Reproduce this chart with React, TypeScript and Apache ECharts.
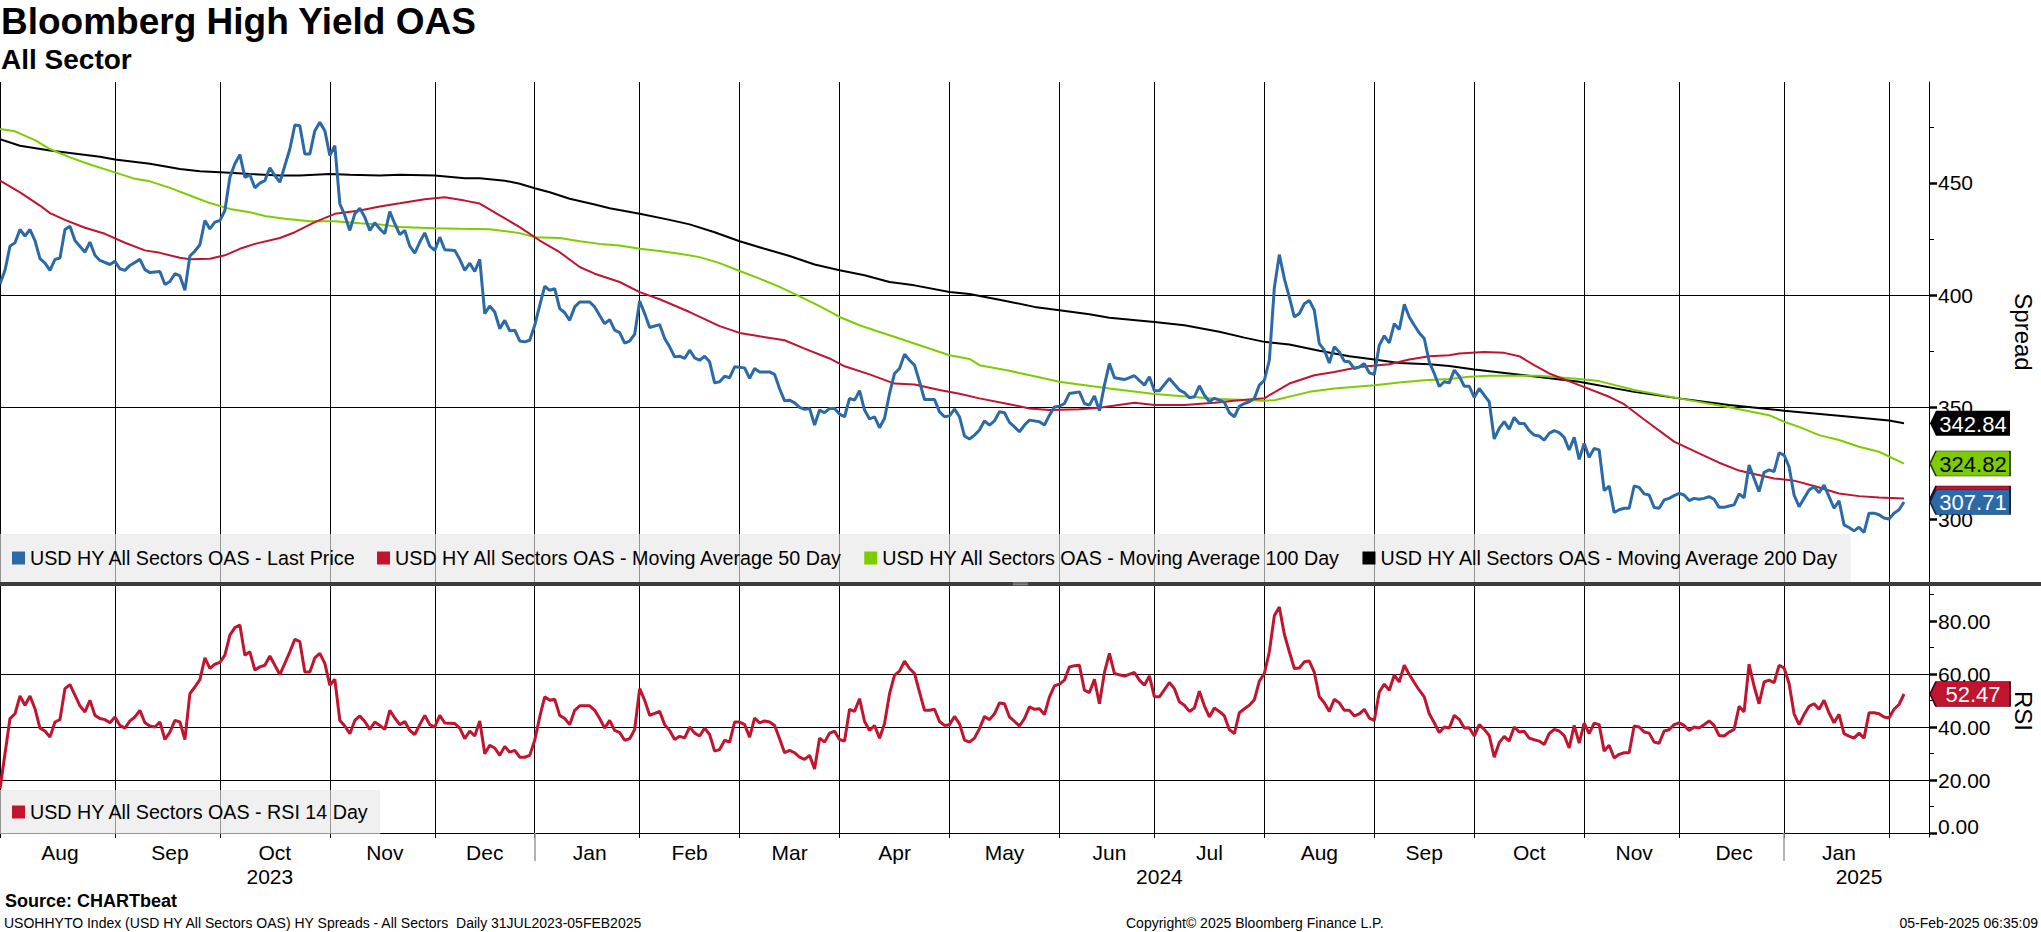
import React, { useEffect, useRef } from 'react';
import * as echarts from 'echarts';

const FONT = 'Liberation Sans, Arial, sans-serif';
const START = '2023-07-31';
const END = '2025-02-12';
const HOLIDAYS = [
  '2023-11-23', '2023-12-25', '2024-01-01', '2024-01-15', '2024-02-19', '2024-03-29',
  '2024-05-27', '2024-06-19', '2024-07-04', '2024-09-02', '2024-10-14', '2024-11-11',
  '2024-11-28', '2024-12-25', '2025-01-01', '2025-01-20',
];
const MONTHS = ['Jan', 'Feb', 'Mar', 'Apr', 'May', 'Jun', 'Jul', 'Aug', 'Sep', 'Oct', 'Nov', 'Dec'];

const NAME_PRICE = 'USD HY All Sectors OAS - Last Price';
const NAME_MA50 = 'USD HY All Sectors OAS - Moving Average 50 Day';
const NAME_MA100 = 'USD HY All Sectors OAS - Moving Average 100 Day';
const NAME_MA200 = 'USD HY All Sectors OAS - Moving Average 200 Day';
const NAME_RSI = 'USD HY All Sectors OAS - RSI 14 Day';

const SPREAD_TICKS = [300, 350, 400, 450];
const SPREAD_MINOR = [325, 375, 425, 475];
const RSI_TICKS = [0, 20, 40, 60, 80];
const RSI_MINOR = [10, 30, 50, 70, 90];

// [trading-day index from 31 Jul 2023, value]
const PRICE: [number, number][] = [
  [0,405],[1,411],[2,421.8],[3,423.3],[4,429.2],[5,426.3],[6,429.2],[7,424.3],[8,416.2],[9,414.2],[10,411],[11,415.9],[12,416.5],[13,429.2],[14,430.7],[15,424.3],[17,419.1],[18,423.6],[19,417.7],[20,415.4],[22,413.6],[23,415],[24,411.7],[25,411],[26,413.2],[28,415.9],[29,411.3],[30,410],[32,410.5],[33,404.7],[34,406],[35,409.5],[36,408.5],[37,402.1],[38,417.4],[39,419.6],[40,422.4],[41,433.2],[42,429.5],[43,432.5],[44,433.2],[45,437.7],[46,452.5],[47,458.5],[48,462.6],[49,452.5],[50,453.6],[51,447.8],[52,449.9],[53,451],[54,456.7],[55,453.3],[56,450.3],[58,465.1],[59,475.8],[60,475.5],[61,462.9],[62,462.9],[63,473.3],[64,477],[65,473.3],[66,462.2],[67,466.6],[68,440.7],[69,435.5],[70,428.8],[71,436.2],[72,438.7],[73,434.7],[74,428.8],[75,432.2],[76,429.5],[77,427.3],[78,437.2],[79,431.8],[80,426.9],[81,428.8],[82,421.8],[83,418.7],[84,423.6],[85,427.7],[86,421.8],[87,419.9],[88,425.8],[89,420.2],[91,419.9],[92,415.9],[93,411],[94,414.2],[95,410.5],[96,415.9],
  [97,391.7],[98,395.1],[99,392.4],[100,385],[101,388.7],[102,384],[103,384.3],[104,379.5],[105,379.1],[106,379.8],[107,386.5],[108,395.4],[109,403.9],[110,402.1],[111,402.8],[112,393.9],[113,392.1],[114,388.7],[115,394.7],[116,396.9],[118,396.9],[119,394.7],[120,390.9],[121,387.2],[122,389],[123,384.3],[124,383.2],[125,378.6],[126,379.4],[127,382.5],[128,397.3],[129,391.7],[130,385.5],[132,386.8],[133,380.6],[134,376.9],[135,372.4],[136,372.7],[137,371.7],[138,375.4],[139,372],[140,370.9],[141,372.7],[142,370.2],[143,360.8],[144,361.3],[145,363.8],[146,363.1],[147,368],[149,367.5],[150,362.8],[151,367.2],[152,365.7],[154,365.7],[155,364.6],[156,358.2],[157,352.8],[158,353.1],[159,351.9],[160,349.9],[161,349],[162,349.4],[163,342],[164,348.7],[165,347.5],[166,349.4],[167,349.4],[168,346.9],[169,345.7],[170,353.9],[171,353.1],[172,357.3],[173,348.7],[174,344.7],[175,345.7],[176,340.8],[177,345],[178,356.1],[179,365],[180,367.2],[181,373.6],[182,370.9],[183,368.7],[184,361.3],[185,353.4],[186,353.4],[187,353.4],[188,347.9],[189,345.7],[190,346.1],[191,349.1],[192,345.7],[193,337.1],
  [194,335.8],[195,337.5],[196,339.8],[197,343.9],[198,342],[199,343.9],[200,347.9],[201,347.5],[202,343.2],[203,341.2],[204,339],[205,342],[206,344.2],[208,343.5],[209,342],[210,346.4],[211,350.1],[212,350.4],[213,351.6],[214,356.1],[216,356.8],[217,351.6],[218,350.9],[219,355],[220,348.4],[221,359.8],[222,369.4],[223,363.1],[225,362.3],[227,364],[229,359.8],[230,363.5],[231,357.3],[232,357.3],[234,362.8],[236,357.6],[237,356.5],[238,354.2],[239,354.6],[240,359.5],[241,355.3],[242,352.4],[243,353.9],[244,353.1],[245,352.1],[246,347.5],[247,345.7],[248,350.4],[249,351.6],[250,352.4],[251,353.9],[252,359.8],[253,362],[254,370.9],[255,403.3],[256,418],[257,407.3],[258,399.1],[259,390.2],[260,391.7],[261,396.1],[262,397.6],[263,393.2],[264,378.3],[265,375.4],[266,369.7],[267,376.9],[268,374.6],[269,370.5],[270,370.2],[271,367.2],[272,367.9],[273,369.4],[274,365.3],[275,364.6],[276,377.6],[277,381.8],[278,378.6],[279,387.2],[280,384.6],[281,395.8],[282,390.2],[283,386.5],[284,383.1],[285,380.6],[286,370.2],[287,365],[288,359.2],
  [289,361.3],[290,360.8],[291,366.5],[292,363.8],[293,359.3],[294,359.3],[295,354.3],[296,358.3],[297,355.3],[298,352.4],[299,335.8],[300,340.5],[301,343.5],[302,340.2],[303,345.4],[304,342.7],[305,342.7],[306,339.5],[307,337.5],[308,337.1],[309,335.3],[310,338.3],[311,339.5],[312,338.6],[313,336.5],[314,330.9],[315,336.5],[316,326.7],[317,333.8],[318,327.6],[319,331.6],[320,330.9],[321,312.8],[322,314.8],[323,303],[324,304.2],[325,304.9],[326,304.9],[327,314.8],[328,314.2],[329,311.3],[330,310.8],[331,305.2],[332,304.9],[333,308.6],[334,309.3],[335,310.5],[336,311.5],[337,310.8],[338,308.3],[339,309.3],[340,308.9],[341,309.3],[342,310.1],[343,308.9],[344,305.3],[345,305.3],[346,305.9],[347,306.4],[348,311.3],[349,309.6],[350,324.2],[351,318.2],[352,312.3],[353,320.9],[354,322],[355,321.2],[356,329.6],[357,328.6],[358,323.4],[359,310.8],[360,305.6],[361,309.3],[362,313],[363,314.5],[364,311.8],[365,315.2],[366,310.1],[367,304.9],[368,308.2],[369,297.5],[370,296.3],[371,294.8],[372,296.4],[373,294.1],[374,302.7],[375,302.7],[376,302],[377,300.5],[378,300.1],[379,302.7],[380,304.2],[381,307.71],
];

const MA50: [number, number][] = [
  [0,451],[4,445.8],[8,439.9],[10,436.5],[13,433.5],[17,430],[21,427.3],[25,423.3],[29,419.9],[32,418.8],[36,416.6],[38,415.9],[42,416.2],[45,417.7],[48,420.6],[51,422.8],[56,425.4],[59,428],[63,432.5],[67,436.2],[72,437.7],[76,439.5],[80,440.9],[85,442.7],[89,443.6],[93,442.1],[96,440.8],[100,435.5],[104,430.3],[108,424.3],[112,419.1],[116,412.5],[119,409.5],[124,405.8],[128,401.3],[132,398.1],[138,392.4],[144,386.1],[148,383.1],[152,381.6],[157,379.8],[161,376.1],[166,371.7],[169,368.2],[174,364.6],[179,360.5],[183,360.1],[188,357.6],[192,356],[196,353.9],[202,351.3],[206,349.4],[210,348.7],[216,349.1],[220,349.7],[227,351.9],[231,350.9],[237,350.9],[243,351.9],[248,353.1],[253,353.9],[254,355.3],[258,360.5],[263,364.2],[267,365.7],[272,367.9],[278,369.1],[282,371.2],[286,372.7],[290,373.1],[292,373.9],[297,374.6],[301,374.2],[304,372.7],[307,368.7],[310,365],[316,359.8],[322,354.6],[325,351.3],[329,344.5],[335,334.6],[340,329.4],[344,325.2],[348,321.7],[351,320.2],[355,318.2],[359,317.2],[363,314.8],[368,311.5],[372,310.3],[376,309.7],[381,309.2],
];

const MA100: [number, number][] = [
  [0,474],[3,473],[7,469.1],[10,465.1],[14,461.4],[18,458.2],[23,454.7],[27,451.8],[30,450.7],[34,447.8],[38,444.4],[42,441],[46,438.4],[50,436.9],[53,435.2],[57,434],[62,432.9],[67,432.9],[72,432],[76,431.5],[80,430.3],[87,429.8],[92,429.5],[98,429.3],[100,428.8],[104,427.6],[107,425.8],[112,425.4],[116,424],[120,422.8],[124,422.1],[128,420.6],[132,419.6],[136,418.4],[140,416.9],[144,414.2],[148,410.7],[152,407.3],[156,403.6],[160,399.4],[164,395],[168,390.2],[172,386.5],[176,383.5],[180,380.6],[184,377.6],[190,373.1],[194,371.5],[196,368.7],[202,366.2],[207,363.8],[212,361.3],[216,360.1],[222,358.3],[231,355.8],[238,354.6],[244,353.6],[253,352.8],[255,353.1],[262,356.8],[267,358.3],[275,359.8],[280,361],[285,362],[290,362.5],[294,363.5],[298,364],[308,364],[316,362.5],[320,361.6],[327,357.6],[336,353.9],[346,349.9],[354,346.4],[357,343.5],[360,341.2],[364,337.5],[368,335.3],[372,332.3],[376,330.1],[381,324.82],
];

const MA200: [number, number][] = [
  [0,469.5],[4,466.6],[10,464.4],[20,461.7],[23,460.4],[30,458.5],[36,456.2],[40,455.2],[46,454.5],[50,454],[56,453.3],[60,453.3],[66,454],[70,453.6],[76,453.3],[80,453.6],[87,453.3],[93,452.1],[96,452.1],[101,451],[104,449.6],[107,447.6],[110,445.8],[114,442.9],[119,440.4],[122,438.7],[128,436.2],[134,433.5],[138,431.5],[143,428],[148,424],[153,420.6],[158,417.4],[163,413.6],[168,411],[173,408.8],[178,405.8],[183,404.3],[190,401.3],[194,400.4],[200,397.9],[207,394.7],[212,393.2],[218,391.4],[222,389.9],[231,388],[237,386.5],[244,383.6],[249,381],[253,379.1],[258,377.9],[264,375.1],[270,372.7],[275,371.2],[280,369.7],[286,369.1],[290,368.3],[295,366.8],[305,364.2],[316,361.3],[327,356.8],[336,353.9],[346,350.9],[357,348.4],[368,346.1],[378,344],[381,342.84],
];

const RSI: [number, number][] = [
  [0,16.7],[2,43.2],[3,45],[4,51.7],[5,48.2],[6,51.7],[7,46.9],[8,39.6],[9,38.5],[10,36.2],[11,41.9],[12,42.8],[13,54.5],[14,56],[15,52],[16,48],[17,45.7],[18,50.1],[19,44.4],[20,43.2],[21,42.8],[22,41.6],[23,43.8],[24,40.6],[25,39.6],[26,42.3],[27,43.8],[28,46.3],[29,41.6],[30,40.4],[31,40],[32,41.9],[33,35.3],[34,38.1],[35,42.5],[36,41.9],[37,35.3],[38,52.6],[39,55.1],[40,57.9],[41,66.1],[42,62.1],[43,63.7],[44,64.4],[45,67.1],[46,74.7],[47,77.5],[48,78.5],[49,67.1],[50,68.4],[51,61.5],[52,62.7],[53,63.3],[54,66.8],[55,63.3],[56,59.8],[57,64],[58,68.4],[59,73.1],[60,72.2],[61,60.8],[62,60.8],[63,66.1],[64,67.8],[65,64],[66,55.8],[67,58],[68,42.5],[69,40.4],[70,37.5],[71,42.5],[72,44.2],[73,42.1],[74,39.1],[75,41.9],[76,40.6],[77,39.1],[78,46.3],[79,43.4],[80,40.9],[81,42.1],[82,38.7],[83,37.2],[84,40.9],[85,44.4],[86,40.9],[87,40],[88,44.4],[89,41.5],[91,41.3],[92,39.6],[93,35.6],[94,38.5],[95,36.6],[96,42.3],
  [97,29.9],[98,33.1],[99,32.1],[100,29.3],[101,32.7],[102,30.5],[103,31.2],[104,28.6],[105,28.6],[106,29.3],[107,35],[108,43.8],[109,51.4],[110,50.1],[111,50.5],[112,44.4],[113,43.2],[114,40.9],[115,46.3],[116,48],[118,48],[119,46.3],[120,43.2],[121,39.6],[122,42.5],[123,38.7],[124,37.9],[125,35],[126,35.6],[127,39.1],[128,54.5],[129,50.1],[130,44.4],[132,45.9],[133,40.9],[134,38.7],[135,35.3],[136,36.5],[137,35.9],[138,40],[139,37.7],[140,36.6],[141,39.6],[142,37.2],[143,30.9],[144,31.5],[145,35],[146,34.3],[147,41.9],[148,41.9],[149,40.9],[150,36.2],[151,43.4],[152,41.6],[153,42.3],[154,41.9],[155,40.6],[156,35.6],[157,30.3],[158,31.2],[159,30.3],[160,28.6],[161,27.8],[162,29.3],[163,24.2],[164,35.8],[165,34.3],[166,37.7],[167,38.4],[168,35.3],[169,34.7],[170,46.7],[171,45.9],[172,50.7],[173,42.1],[174,38.7],[175,40.6],[176,35.8],[177,41.3],[178,52.6],[179,59.6],[180,61.1],[181,64.9],[182,62.1],[183,60.2],[184,53.2],[185,46.3],[186,46.3],[187,46.7],[188,42.1],[189,40.6],[190,40.9],[191,44],[192,41.2],[193,35.1],
  [194,34.3],[195,35.8],[196,39.4],[197,44],[198,42.8],[199,45],[200,49.1],[201,48.8],[202,43.8],[203,42.1],[204,40.4],[205,43.2],[206,47.6],[207,46.7],[208,46.9],[209,44.7],[210,51.4],[211,55.5],[212,56.2],[213,57.7],[214,62.7],[215,63.1],[216,63.3],[217,53.9],[218,53],[219,58],[220,48.8],[221,60.6],[222,67.8],[223,60.2],[225,59.2],[227,60.6],[228,57.7],[229,55.8],[230,59.3],[231,51.4],[232,51.4],[234,56.8],[235,54.5],[236,49.5],[237,48.2],[238,45.9],[239,47.2],[240,53.5],[241,48],[242,43.8],[243,47.2],[244,45.9],[245,44.2],[246,39],[247,37.5],[248,45.4],[249,46.9],[250,48.2],[251,50.3],[252,57.3],[253,60.2],[254,68.4],[255,82],[256,85.3],[257,75],[258,68.4],[259,62.1],[260,62.3],[261,64.6],[262,64.9],[263,60.6],[264,51.4],[265,49.2],[266,45.9],[267,50.5],[268,49.1],[269,46.3],[270,46.3],[271,44.2],[272,45],[273,46.7],[274,43.4],[275,42.5],[276,53.2],[277,56.2],[278,53.9],[279,59.6],[280,57],[281,63.3],[282,59.8],[283,56.8],[284,53.9],[285,51.4],[286,45],[287,41.6],[288,37.9],
  [289,40],[290,39.6],[291,44.4],[292,42.9],[293,39.6],[294,39.7],[295,36.6],[296,40.9],[297,39.1],[298,36.8],[299,28.6],[300,34.1],[301,36.5],[302,34.7],[303,40],[304,38.1],[305,38.4],[306,35.8],[307,35.2],[308,34.7],[309,33.4],[310,37.5],[311,39.1],[312,38.5],[313,36.8],[314,32.1],[315,40.6],[316,33.9],[317,41.5],[318,37.5],[319,41.5],[320,40.9],[321,30.9],[322,33.1],[323,28.3],[324,29.7],[325,30.3],[326,30.3],[327,40.4],[328,40],[329,38.1],[330,37.7],[331,34.3],[332,33.9],[333,38.5],[334,39],[335,40.9],[336,41.6],[337,40.6],[338,38.7],[339,40],[340,39.6],[341,40.9],[342,42.3],[343,40.6],[344,36.8],[345,36.6],[346,38.1],[347,39.1],[348,47.8],[349,45.7],[350,63.7],[351,55.4],[352,48.8],[353,57],[354,57.7],[355,56.7],[356,63.3],[357,62.3],[358,56.4],[359,45],[360,40.9],[361,44.7],[362,47.8],[363,48.8],[364,46.7],[365,50.1],[366,45.3],[367,41.6],[368,44.8],[369,37.5],[370,36.6],[371,35.8],[372,37.7],[373,35.8],[374,45.4],[375,45.4],[376,45],[377,43.8],[378,43.4],[379,46.7],[380,48.5],[381,52.47],
];

function tradingDays(): string[] {
  const out: string[] = [];
  const hol = new Set(HOLIDAYS);
  const d = new Date(START + 'T00:00:00Z');
  const end = new Date(END + 'T00:00:00Z');
  while (d.getTime() <= end.getTime()) {
    const wd = d.getUTCDay();
    const s = d.toISOString().slice(0, 10);
    if (wd !== 0 && wd !== 6 && !hol.has(s)) out.push(s);
    d.setUTCDate(d.getUTCDate() + 1);
  }
  return out;
}

const CATS = tradingDays();
const N = CATS.length;

// last trading day of each month -> month separators
const MONTH_BOUNDS: number[] = [];
const YEAR_BOUNDS: number[] = [];
for (let i = 0; i < N - 1; i++) {
  if (CATS[i].slice(0, 7) !== CATS[i + 1].slice(0, 7)) MONTH_BOUNDS.push(i);
  if (CATS[i].slice(0, 4) !== CATS[i + 1].slice(0, 4)) YEAR_BOUNDS.push(i);
}
const GRID_SET = new Set([0, ...MONTH_BOUNDS]);
const MONTH_MID = new Set<number>();
for (let k = 0; k < MONTH_BOUNDS.length - 1; k++) {
  MONTH_MID.add(Math.round((MONTH_BOUNDS[k] + MONTH_BOUNDS[k + 1]) / 2));
}
const YEAR_SET = new Set(YEAR_BOUNDS);
const YEAR_MID = new Set<number>();
{
  const s = [0, ...YEAR_BOUNDS];
  const e = [...YEAR_BOUNDS, N - 1];
  for (let k = 0; k < s.length; k++) YEAR_MID.add(Math.round((s[k] + e[k]) / 2));
}

const toData = (arr: [number, number][]) => arr.map(([d, v]) => [CATS[d], v]);
const lastVal = (arr: [number, number][]) => arr[arr.length - 1][1];

const tag = (value: number, fill: string, textColor: string, border?: string, showText = true) => ({
  symbol: 'path://M0,12.5L6,0L80,0L80,25L6,25Z',
  symbolSize: [80, 25],
  symbolOffset: [41, 0],
  symbolKeepAspect: false,
  silent: true,
  animation: false,
  itemStyle: { color: fill, borderColor: border || fill, borderWidth: border ? 1 : 0 },
  label: {
    show: showText,
    position: 'inside',
    offset: [3, 1],
    color: textColor,
    fontSize: 22,
    fontFamily: FONT,
    formatter: () => value.toFixed(2),
  },
  data: [{ coord: [CATS[N - 1], value] }],
});

const legendBase = {
  orient: 'horizontal',
  left: 0,
  icon: 'rect',
  itemWidth: 13,
  itemHeight: 13,
  itemGap: 21,
  selectedMode: false,
  backgroundColor: 'rgba(232,232,232,0.65)',
  borderRadius: 0,
  textStyle: { fontSize: 19.7, color: '#000', fontFamily: FONT },
};

const valueAxis = (grid: number, min: number, max: number, ticks: number[], name: string, fmt: (v: number) => string) => ({
  type: 'value',
  gridIndex: grid,
  position: 'right',
  min,
  max,
  name,
  nameLocation: 'middle',
  nameRotate: -90,
  nameGap: 82,
  nameTextStyle: { fontSize: 24, color: '#000', fontFamily: FONT },
  axisLine: { show: true, lineStyle: { color: '#000', width: 1 } },
  axisTick: { show: true, customValues: ticks, length: 8, lineStyle: { color: '#000', width: 2.5 } },
  axisLabel: {
    show: true, customValues: ticks, margin: 9, color: '#000', fontSize: 21, fontFamily: FONT, formatter: fmt,
    rich: { lo: { padding: [0, 0, 14, 0], color: '#000', fontSize: 21, fontFamily: FONT } },
  },
  splitLine: { show: true, showMinLine: false, showMaxLine: false, lineStyle: { color: '#000', width: 1 } },
});

const minorAxis = (grid: number, min: number, max: number, ticks: number[]) => ({
  type: 'value',
  gridIndex: grid,
  position: 'right',
  min,
  max,
  axisLine: { show: false },
  axisTick: { show: true, customValues: ticks, length: 5, lineStyle: { color: '#000', width: 1 } },
  axisLabel: { show: false },
  splitLine: { show: false },
});

export default function App() {
  const ref = useRef<HTMLDivElement>(null);
  useEffect(() => {
    if (!ref.current) return;
    const chart = echarts.init(ref.current, null, { renderer: 'svg' });
    const option: any = {
      animation: false,
      backgroundColor: '#fff',
      title: [
        { text: 'Bloomberg High Yield OAS', left: 1, top: 3, padding: 0, textStyle: { fontSize: 37, fontWeight: 'bold', color: '#000', fontFamily: FONT } },
        { text: 'All Sector', left: 1, top: 45, padding: 0, textStyle: { fontSize: 28, fontWeight: 'bold', color: '#000', fontFamily: FONT } },
        { text: 'Source: CHARTbeat', left: 5, top: 892, padding: 0, textStyle: { fontSize: 18, fontWeight: 'bold', color: '#000', fontFamily: FONT } },
        { text: 'USOHHYTO Index (USD HY All Sectors OAS) HY Spreads - All Sectors  Daily 31JUL2023-05FEB2025', left: 4, top: 916, padding: 0, textStyle: { fontSize: 14, fontWeight: 'normal', color: '#000', fontFamily: FONT } },
        { text: 'Copyright\u00a9 2025 Bloomberg Finance L.P.', left: 1126, top: 916, padding: 0, textStyle: { fontSize: 14, fontWeight: 'normal', color: '#000', fontFamily: FONT } },
        { text: '05-Feb-2025 06:35:09', right: 3, top: 916, padding: 0, textStyle: { fontSize: 14, fontWeight: 'normal', color: '#000', fontFamily: FONT } },
      ],
      legend: [
        { ...legendBase, top: 534, padding: [14, 11, 14, 12], data: [NAME_PRICE, NAME_MA50, NAME_MA100, NAME_MA200] },
        { ...legendBase, top: 790, padding: [12, 11, 12, 12], data: [NAME_RSI] },
      ],
      grid: [
        { left: 0, right: 112, top: 82, height: 500, outerBoundsMode: 'none', containLabel: false },
        { left: 0, right: 112, top: 585, height: 252, outerBoundsMode: 'none', containLabel: false },
      ],
      xAxis: [
        {
          type: 'category', gridIndex: 0, data: CATS, boundaryGap: false,
          axisLine: { show: false }, axisTick: { show: false }, axisLabel: { show: false },
          splitLine: { show: true, interval: (i: number) => GRID_SET.has(i), lineStyle: { color: '#000', width: 1 } },
        },
        {
          type: 'category', gridIndex: 1, data: CATS, boundaryGap: false, position: 'bottom',
          axisLine: { show: true, lineStyle: { color: '#000', width: 1 } },
          axisTick: { show: true, interval: (i: number) => GRID_SET.has(i), length: 5, lineStyle: { color: '#000', width: 1 } },
          axisLabel: {
            show: true, interval: (i: number) => MONTH_MID.has(i),
            margin: 5, color: '#000', fontSize: 21, fontFamily: FONT,
            formatter: (v: string) => MONTHS[parseInt(v.slice(5, 7), 10) - 1],
          },
          splitLine: { show: true, interval: (i: number) => GRID_SET.has(i), lineStyle: { color: '#000', width: 1 } },
        },
        {
          type: 'category', gridIndex: 1, data: CATS, boundaryGap: false, position: 'bottom', offset: 25,
          axisLine: { show: false },
          axisTick: { show: true, interval: (i: number) => YEAR_SET.has(i), length: 28, lineStyle: { color: '#999', width: 1.5 } },
          axisLabel: {
            show: true, interval: (i: number) => YEAR_MID.has(i),
            margin: 4, color: '#000', fontSize: 21, fontFamily: FONT,
            formatter: (v: string) => v.slice(0, 4),
          },
          splitLine: { show: false },
        },
      ],
      yAxis: [
        valueAxis(0, 272, 495, SPREAD_TICKS, 'Spread', (v: number) => String(v)),
        minorAxis(0, 272, 495, SPREAD_MINOR),
        valueAxis(1, -1.5, 93.6, RSI_TICKS, 'RSI', (v: number) => (v === 0 ? '{lo|0.00}' : v.toFixed(2))),
        minorAxis(1, -1.5, 93.6, RSI_MINOR),
      ],
      series: [
        {
          type: 'line', name: NAME_MA200, xAxisIndex: 0, yAxisIndex: 0, data: toData(MA200), showSymbol: false,
          lineStyle: { color: '#000', width: 2 }, itemStyle: { color: '#000' }, emphasis: { disabled: true },
          markPoint: tag(lastVal(MA200), '#000', '#fff'),
        },
        {
          type: 'line', name: NAME_MA100, xAxisIndex: 0, yAxisIndex: 0, data: toData(MA100), showSymbol: false,
          lineStyle: { color: '#7dcc00', width: 2 }, itemStyle: { color: '#7dcc00' }, emphasis: { disabled: true },
          markPoint: tag(lastVal(MA100), '#7dcc00', '#000', '#2a3a00'),
        },
        {
          type: 'line', name: NAME_MA50, xAxisIndex: 0, yAxisIndex: 0, data: toData(MA50), showSymbol: false,
          lineStyle: { color: '#c0142f', width: 2 }, itemStyle: { color: '#c0142f' }, emphasis: { disabled: true },
          markPoint: tag(lastVal(MA50), '#c0142f', '#fff', '#3a0010', false),
        },
        {
          type: 'line', name: NAME_PRICE, xAxisIndex: 0, yAxisIndex: 0, data: toData(PRICE), showSymbol: false,
          lineStyle: { color: '#2c69a7', width: 3 }, itemStyle: { color: '#2c69a7' }, emphasis: { disabled: true },
          markPoint: tag(lastVal(PRICE), '#2c69a7', '#fff', '#0d2440'),
        },
        {
          type: 'line', name: NAME_RSI, xAxisIndex: 1, yAxisIndex: 2, data: toData(RSI), showSymbol: false,
          lineStyle: { color: '#c0142f', width: 3 }, itemStyle: { color: '#c0142f' }, emphasis: { disabled: true },
          markPoint: tag(lastVal(RSI), '#c0142f', '#fff', '#3a0010'),
        },
      ],
      graphic: [
        { type: 'rect', z: 100, shape: { x: 0, y: 582, width: 2041, height: 4 }, style: { fill: '#3d3d3d' } },
        { type: 'rect', z: 101, shape: { x: 1013, y: 582.6, width: 15, height: 0.8 }, style: { fill: '#b0b0b0' } },
        { type: 'rect', z: 101, shape: { x: 1013, y: 584.4, width: 15, height: 0.8 }, style: { fill: '#b0b0b0' } },
      ],
    };
    chart.setOption(option);
    return () => chart.dispose();
  }, []);
  return (
    <div
      ref={ref}
      style={{ position: 'fixed', left: 0, top: 0, width: 2041, height: 932, background: '#fff' }}
    />
  );
}
